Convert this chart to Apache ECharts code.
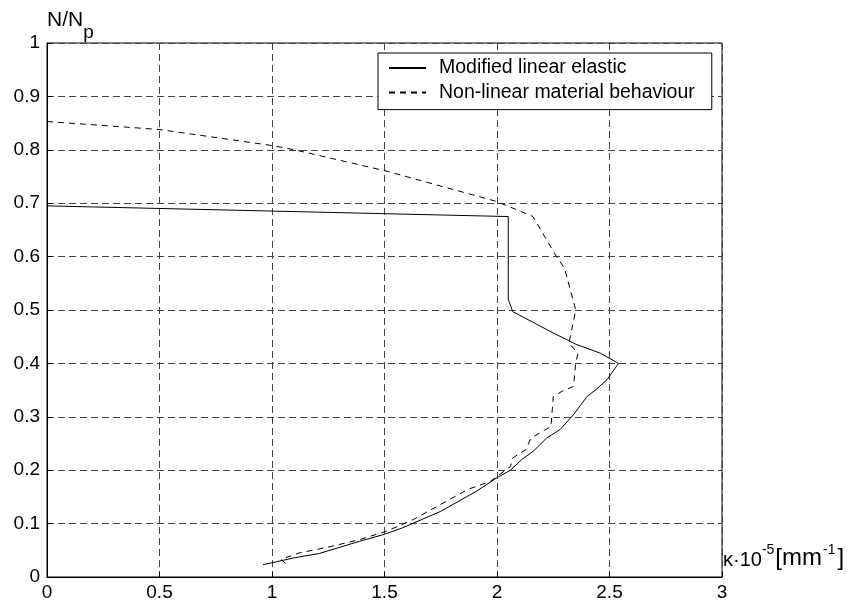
<!DOCTYPE html>
<html>
<head>
    <meta charset="utf-8">
    <script type="text/javascript" src="https://cdn.jsdelivr.net/npm/echarts@6/dist/echarts.min.js"></script>
    <title>N/Np - kappa</title>
</head>
<body style="margin:0;background:#fff;">
    <div id="container" style="width:866px;height:603px;"></div>
    <script type="text/javascript">
    // curvature kappa * 1e-5 [1/mm] against N/Np
    var linearKappa = [0, 2.05, 2.05, 2.07, 2.25, 2.35, 2.46, 2.54, 2.49, 2.44, 2.40, 2.34, 2.28, 2.22, 2.16, 2.11, 2.06, 2.00, 1.91, 1.75, 1.58, 1.50, 1.39, 1.21, 1.10, 0.96];
    var linearN = [0.695, 0.675, 0.52, 0.497, 0.457, 0.436, 0.419, 0.400, 0.370, 0.351, 0.338, 0.304, 0.276, 0.260, 0.235, 0.220, 0.200, 0.186, 0.161, 0.123, 0.092, 0.080, 0.067, 0.044, 0.036, 0.023];

    var nonlinKappa = [0, 0.5, 1.0, 1.1, 1.5, 1.57, 2.0, 2.16, 2.26, 2.30, 2.35, 2.32, 2.36, 2.35, 2.34, 2.29, 2.25, 2.24, 2.15, 2.13, 2.07, 2.06, 1.97, 1.87, 1.72, 1.63, 1.51, 1.39, 1.24, 1.12, 1.04, 1.07];
    var nonlinN = [0.853, 0.838, 0.808, 0.800, 0.761, 0.753, 0.703, 0.675, 0.603, 0.578, 0.500, 0.438, 0.419, 0.401, 0.357, 0.348, 0.338, 0.282, 0.260, 0.239, 0.223, 0.207, 0.179, 0.164, 0.129, 0.108, 0.086, 0.070, 0.055, 0.045, 0.033, 0.022];

    var seriesNames = ['Modified linear elastic', 'Non-linear material behaviour'];

    function pairs(xs, ys) {
        return xs.map(function (x, i) { return [x, ys[i]]; });
    }

    var myChart = echarts.init(document.getElementById('container'));

    var fontName = 'Liberation Sans';

    var option = {
        animation: false,
        textStyle: { fontFamily: fontName, color: '#000' },
        grid: {
            left: 47, top: 43, right: 144, bottom: 26,
            show: true, borderColor: '#000', borderWidth: 1
        },
        legend: {
            data: seriesNames,
            orient: 'vertical',
            left: 378,
            top: 53,
            padding: [5, 17, 7, 10],
            itemGap: 4.6,
            itemWidth: 37,
            itemHeight: 14,
            backgroundColor: '#fff',
            borderColor: '#000',
            borderWidth: 1,
            borderRadius: 0,
            // hide the marker dot, keep only the line sample
            itemStyle: { color: 'transparent', borderWidth: 0, opacity: 0 },
            textStyle: { fontFamily: fontName, fontSize: 19.5, color: '#000', lineHeight: 20, padding: [0, 0, 0, 8] }
        },
        xAxis: {
            type: 'value',
            min: 0, max: 3, interval: 0.5,
            name: '{m|κ·10}{s|-5}{w|[mm}{s|-1}{b|]}',
            nameLocation: 'end',
            nameGap: 1,
            nameTextStyle: {
                align: 'left', verticalAlign: 'middle',
                padding: [0, 0, 40, 0],
                rich: {
                    m: { fontFamily: fontName, fontSize: 20, lineHeight: 27, verticalAlign: 'bottom', color: '#000' },
                    w: { fontFamily: fontName, fontSize: 24, lineHeight: 27, verticalAlign: 'bottom', color: '#000', padding: [0, 1, 0, 1] },
                    b: { fontFamily: fontName, fontSize: 24, lineHeight: 27, verticalAlign: 'bottom', color: '#000', padding: [0, 0, 0, 2] },
                    s: { fontFamily: fontName, fontSize: 14, lineHeight: 14, verticalAlign: 'top', color: '#000' }
                }
            },
            axisLine: { show: true, lineStyle: { color: '#000', width: 1 } },
            axisTick: { show: true, inside: true, length: 5, lineStyle: { color: '#000' } },
            axisLabel: { fontSize: 19, color: '#000', margin: 6.5, fontFamily: fontName },
            splitLine: { show: true, lineStyle: { color: '#444', width: 1, type: [7, 4] } }
        },
        yAxis: {
            type: 'value',
            min: 0, max: 1, interval: 0.1,
            name: '{m|N/N}{p|p}',
            nameLocation: 'end',
            nameGap: 16.75,
            nameTextStyle: {
                align: 'left', verticalAlign: 'middle',
                rich: {
                    m: { fontFamily: fontName, fontSize: 21, lineHeight: 32.5, verticalAlign: 'top', color: '#000' },
                    p: { fontFamily: fontName, fontSize: 19, lineHeight: 19, verticalAlign: 'bottom', color: '#000' }
                }
            },
            axisLine: { show: true, lineStyle: { color: '#000', width: 1 } },
            axisTick: { show: true, inside: true, length: 5, lineStyle: { color: '#000' } },
            axisLabel: { fontSize: 19, color: '#000', margin: 7, fontFamily: fontName },
            splitLine: { show: true, lineStyle: { color: '#444', width: 1, type: [7, 4] } }
        },
        series: [{
            name: seriesNames[0],
            type: 'line',
            symbol: 'none',
            data: pairs(linearKappa, linearN),
            lineStyle: { color: '#000', width: 1, type: 'solid' },
            itemStyle: { color: '#000' }
        }, {
            name: seriesNames[1],
            type: 'line',
            symbol: 'none',
            data: pairs(nonlinKappa, nonlinN),
            lineStyle: { color: '#000', width: 1, type: [6, 5] },
            itemStyle: { color: '#000' }
        }]
    };

    myChart.setOption(option);
    </script>
</body>
</html>
